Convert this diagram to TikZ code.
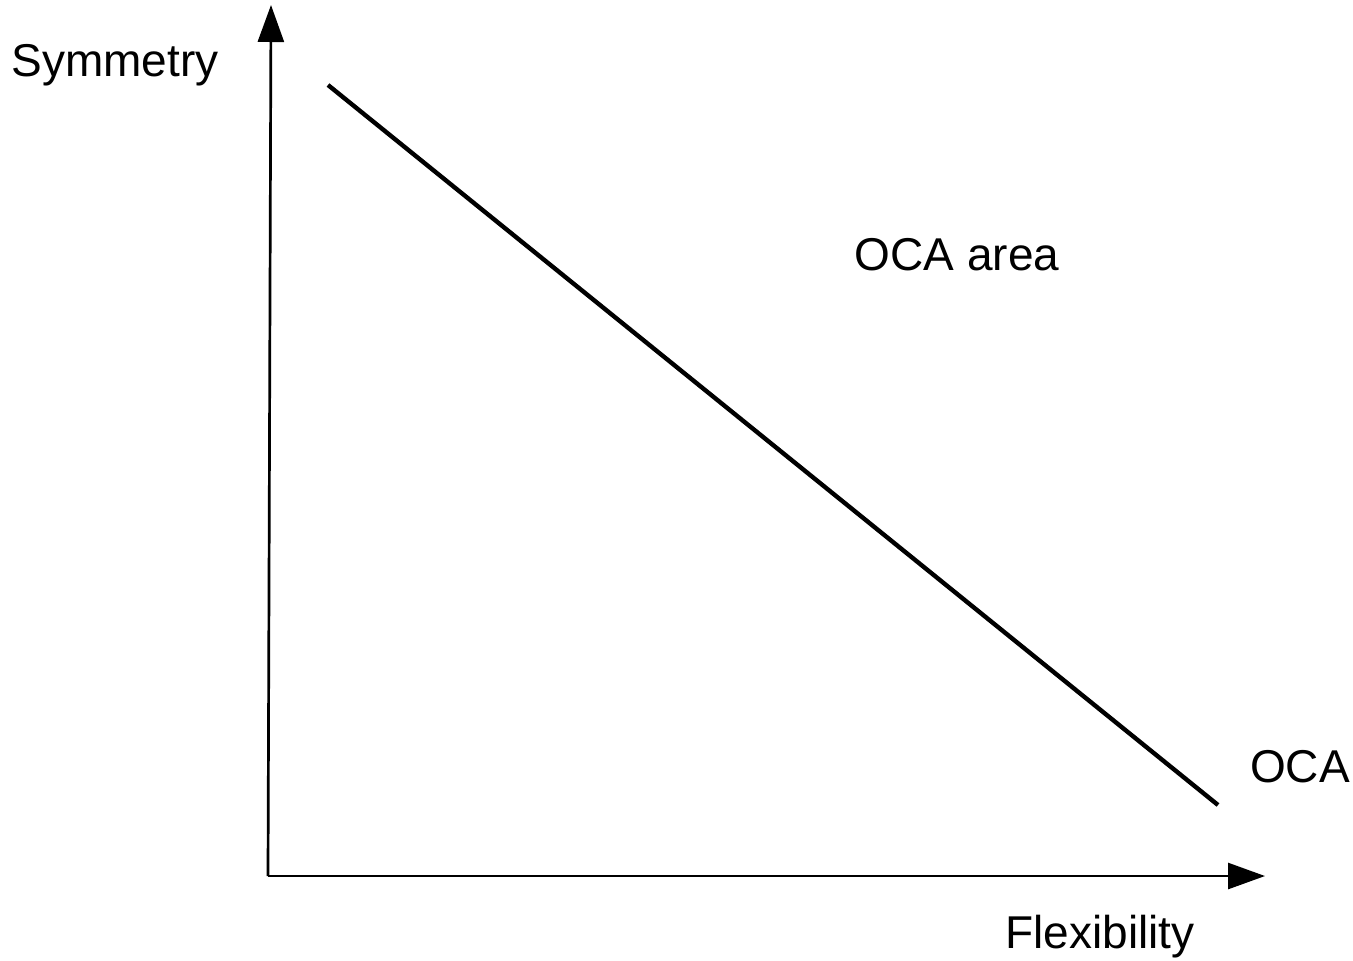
\documentclass[tikz,border=0pt]{standalone}
\usepackage{fontspec}
\setmainfont{Liberation Sans}
\usetikzlibrary{arrows.meta}

\begin{document}
\begin{tikzpicture}[x=0.5pt,y=-0.5pt,
  axis/.style={line width=1.35pt, -{Triangle[length=18.5pt,width=13pt]}},
  lbl/.style={font=\fontsize{23}{27}\selectfont, inner sep=0pt}]
\useasboundingbox (0,0) rectangle (1353,960);
\coordinate (origin) at (268,876);
\coordinate (ytip) at (271,5);
\coordinate (xtip) at (1265,876);
\coordinate (lstart) at (328,85);
\coordinate (lend) at (1218,805);
\draw[axis] (origin) -- (ytip);
\draw[axis] (origin) -- (xtip);
\draw[line width=2.2pt] (lstart) -- (lend);
\node[lbl] (sym) at (115,65) {Symmetry};
\node[lbl] (area) at (957,255) {OCA area};
\node[lbl] (oca) at (1300,767) {OCA};
\node[lbl] (flex) at (1100,937) {Flexibility};
\end{tikzpicture}
\end{document}
